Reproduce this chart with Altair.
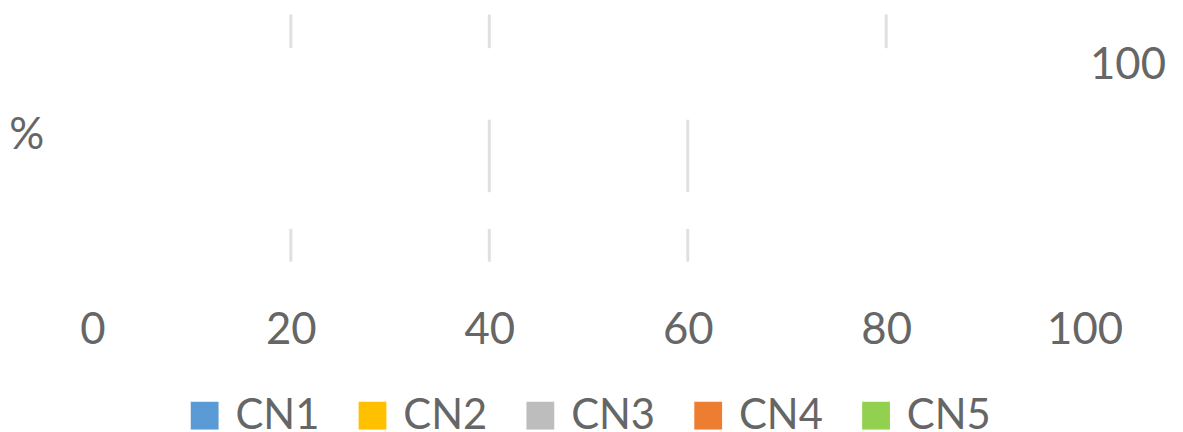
import altair as alt
import pandas as pd

# Series shown in the legend
series = ["CN1", "CN2", "CN3", "CN4", "CN5"]
series_colors = ["#5B9BD5", "#FFC000", "#BDBDBD", "#ED7D31", "#92D050"]

# Axis ticks (percent)
tick_values = [0, 20, 40, 60, 80, 100]

# Visible gridline segments: x value, and extent in row-position units
grid_x = [20, 40, 80, 40, 60, 20, 40, 60]
grid_top = [5, 5, 5, 111, 111, 221, 221, 221]
grid_bottom = [39, 39, 39, 184, 184, 254, 254, 254]

# Side texts
right_text = ["100"]
left_text = ["%"]

FONT = "Lato"
TXT = "#666666"

grid_df = pd.DataFrame({"x": grid_x, "top": grid_top, "bottom": grid_bottom})
legend_df = pd.DataFrame({"series": series})

xscale = alt.Scale(domain=[0, 100], nice=False, zero=True)
yscale = alt.Scale(domain=[0, 280], reverse=True, nice=False, zero=False)

grid = alt.Chart(grid_df).mark_rule(color="#E0E0E0", strokeWidth=3).encode(
    x=alt.X("x:Q", scale=xscale, title=None,
            axis=alt.Axis(values=tick_values, grid=False, domain=False, ticks=False,
                          tickSize=0, labelFont=FONT, labelFontSize=44,
                          labelColor=TXT, labelPadding=43, labelBaseline="middle",
                          labelFlush=False, labelOverlap=False, labelBound=False)),
    y=alt.Y("top:Q", scale=yscale, axis=None),
    y2="bottom:Q",
)

legend_layer = alt.Chart(legend_df).mark_square(opacity=0).encode(
    color=alt.Color("series:N", sort=series,
                    scale=alt.Scale(domain=series, range=series_colors),
                    legend=alt.Legend(orient="none", legendX=92, legendY=388,
                                      direction="horizontal", title=None,
                                      symbolType="square", symbolSize=784,
                                      symbolStrokeWidth=0, symbolOpacity=1,
                                      labelFont=FONT, labelFontSize=42,
                                      labelColor=TXT, labelOffset=10,
                                      columnPadding=32, padding=0)),
    x=alt.value(0),
    y=alt.value(0),
)

rtext = alt.Chart(pd.DataFrame({"t": right_text})).mark_text(
    font=FONT, fontSize=44, color=TXT, align="right", baseline="middle"
).encode(text="t:N", x=alt.value(1081), y=alt.value(57))

ltext = alt.Chart(pd.DataFrame({"t": left_text})).mark_text(
    font=FONT, fontSize=44, color=TXT, align="center", baseline="middle"
).encode(text="t:N", x=alt.value(-66), y=alt.value(128))

chart = alt.layer(grid, legend_layer, rtext, ltext).properties(
    width=999, height=280,
    padding={"left": 85, "top": 0, "right": 91, "bottom": 144},
    autosize=alt.AutoSizeParams(type="none"),
).configure_view(strokeWidth=0, stroke="transparent")

chart.save("out.html", embed_options={"renderer": "svg", "actions": False})
